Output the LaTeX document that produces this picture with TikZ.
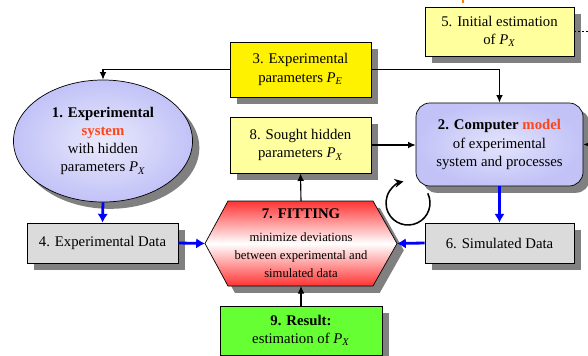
\documentclass[tikz,border=0pt]{standalone}
\usepackage{fontspec}
\setmainfont{Liberation Serif}
\usetikzlibrary{shapes.geometric,shadows,arrows.meta}
\definecolor{lavender}{rgb}{0.76,0.76,0.97}
\definecolor{paleyellow}{rgb}{1,1,0.62}
\definecolor{boxgray}{rgb}{0.86,0.86,0.86}
\definecolor{fitred}{rgb}{1,0.2,0.2}
\definecolor{keyred}{rgb}{1,0.27,0.1}
\definecolor{resultgreen}{rgb}{0.4,1,0.2}
\definecolor{shadowgray}{rgb}{0.5,0.5,0.5}
\newcommand{\param}[1]{\textit{P}\textsubscript{\textit{#1}}}
\newcommand{\smalltext}{\fontsize{9}{10.5}\selectfont}

\begin{document}
\begin{tikzpicture}[x=0.025cm,y=-0.025cm,line width=0.8pt,
	>={Latex[length=1.9mm,width=1.7mm]},
	font=\fontsize{10.5}{13}\selectfont,
	shadowed/.style={drop shadow={shadow xshift=0.17cm,shadow yshift=-0.17cm,fill=shadowgray,opacity=1}},
	box/.style={draw,line width=0.5pt,shadowed,align=center,inner sep=0pt},
	data/.style={->,blue,line width=2pt,>={Latex[length=2.2mm,width=2.6mm]}}]
\useasboundingbox (0,0) rectangle (588,356);
\clip (0,0) rectangle (588,356);
\node[box,ellipse,inner color=lavender!35,outer color=lavender,
	minimum width=4.475cm,minimum height=3.05cm] (system) at (103,141)
	{\textbf{1. Experimental}\\\textcolor{keyred}{\textbf{system}}\\with hidden\\parameters \param{X}};
\node[box,fill=yellow,minimum width=3.525cm,minimum height=1.375cm] (parE) at (300.5,69.5)
	{3. Experimental\\parameters \param{E}};
\node[box,fill=paleyellow,minimum width=3.525cm,minimum height=1.4cm] (sought) at (300.5,145)
	{8. Sought hidden\\parameters \param{X}};
\node[box,fill=paleyellow,minimum width=3.725cm,minimum height=1.225cm] (initial) at (499.5,31.5)
	{5. Initial estimation\\of \param{X}};
\node[box,rounded corners=0.35cm,inner color=lavender!45,outer color=lavender,
	minimum width=4.175cm,minimum height=2.075cm] (model) at (499.5,144.5)
	{\textbf{2. Computer \textcolor{keyred}{model}}\\of experimental\\system and processes};
\node[box,fill=boxgray,minimum width=3.775cm,minimum height=1cm] (expdata) at (102.5,243)
	{4. Experimental Data};
\node[box,fill=boxgray,minimum width=3.725cm,minimum height=1cm] (simdata) at (499.5,243)
	{6. Simulated Data};
\node[box,fill=resultgreen,minimum width=4.05cm,minimum height=1.225cm] (result) at (301,330.5)
	{\textbf{9. Result:}\\estimation of \param{X}};
\coordinate (fitW) at (205,243.5);
\coordinate (fitE) at (397,243.5);
\coordinate (fitN) at (301,201);
\coordinate (fitS) at (301,286);
\path[shadowed,draw,line width=0.5pt,top color=fitred,bottom color=fitred,middle color=white]
	(fitW) -- (228,201) -- (373,201) -- (fitE) -- (373,286) -- (228,286) -- cycle;
\node[align=center] (fitting) at (301,243.5)
	{\textbf{7. FITTING}\\[3pt]{\smalltext minimize deviations}\\{\smalltext between experimental and}\\{\smalltext simulated data}};
\draw[->] (parE.west) -| (system.north);
\draw[->] (parE.east) -| (model.north);
\draw[->] (sought.east) -- (model.west |- sought.east);
\draw[->] (fitN) -- (sought.south);
\draw[->] (result.north) -- (fitS);
\draw[data] (system.south) -- (expdata.north);
\draw[data] (expdata.east) -- (fitW);
\draw[data] (model.south) -- (simdata.north);
\draw[data] (simdata.west) -- (fitE);
\coordinate (iterate) at (408,203);
\draw[-{Stealth[length=2.2mm,width=2.2mm]},line width=1.1pt] (iterate) ++(-26:22) arc[start angle=-26,end angle=258,radius=22];
\coordinate (offmodel) at (600,144.5);
\draw[->] (offmodel) -- (model.east);
\coordinate (offinitial) at (600,31.5);
\draw[dash pattern=on 1.5pt off 1.2pt,line width=0.7pt] (initial.east) -- (offinitial);
\coordinate (orangetop) at (463,-5);
\coordinate (orangeend) at (463,3);
\draw[orange,line width=1.5pt] (orangetop) -- (orangeend);
\end{tikzpicture}
\end{document}
